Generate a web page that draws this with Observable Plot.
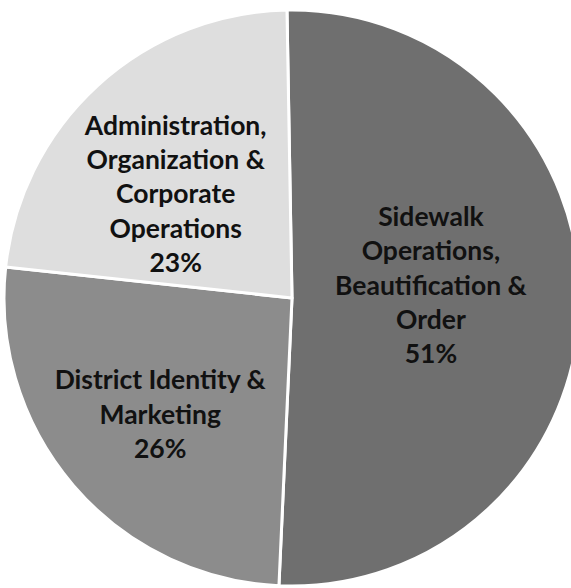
<!DOCTYPE html>
<html>
<head>
<meta charset="utf-8">
<script src="https://cdn.jsdelivr.net/npm/d3@7"></script>
<script src="https://cdn.jsdelivr.net/npm/@observablehq/plot@0.6"></script>
<style>
  html, body { margin: 0; padding: 0; background: #fff; }
  #chart { width: 571px; height: 588px; overflow: hidden; }
</style>
</head>
<body>
<div id="chart"></div>
<script>
// Data
const categories = [
  "Sidewalk\nOperations,\nBeautification &\nOrder",
  "District Identity &\nMarketing",
  "Administration,\nOrganization &\nCorporate\nOperations"
];
const shares = [51, 26, 23];
const fills = ["#6f6f6f", "#8c8c8c", "#dedede"];

const W = 571, H = 588;
const CX = 292, CY = 298, R = 288;
const data = categories.map((c, i) => ({label: c, value: shares[i], fill: fills[i]}));

const pie = d3.pie().sort(null).value(d => d.value)
  .startAngle(-Math.PI / 180).endAngle(2 * Math.PI - Math.PI / 180)(data);
// label anchor in unit-circle coordinates
const labelArc = d3.arc().innerRadius(0.3).outerRadius(0.8);
const labels = pie.map((p, i) => {
  const [cx, cy] = labelArc.centroid(p);
  return {i, x: cx, y: -cy, text: `${p.data.label}\n${p.data.value}%`};
});

function pieMark(index, scales) {
  const {x, y} = scales;
  const cx = x(0), cy = y(0);
  const r = Math.abs(x(1) - x(0));
  const arc = d3.arc().innerRadius(0).outerRadius(r);
  const g = d3.create("svg:g").attr("transform", `translate(${cx},${cy})`);
  g.selectAll("path").data(pie).join("path")
    .attr("d", arc)
    .attr("fill", d => d.data.fill)
    .attr("stroke", "#fff")
    .attr("stroke-width", 3)
    .attr("stroke-linejoin", "round");
  return g.node();
}

const textStyle = {
  x: "x", y: "y", text: "text",
  fontSize: 26.5,
  lineHeight: 1.29,
  fontWeight: 700,
  fill: "#111",
  fontFamily: "Lato, 'Open Sans', sans-serif"
};
const nudges = [[-20, -17], [-12, 11], [-10, 11]];

const chart = Plot.plot({
  width: W,
  height: H,
  margin: 0,
  style: {background: "#fff"},
  x: {domain: [-CX / R, (W - CX) / R], range: [0, W], axis: null},
  y: {domain: [(CY - H) / R, CY / R], range: [H, 0], axis: null},
  marks: [
    pieMark,
    ...nudges.map(([dx, dy], i) =>
      Plot.text(labels.filter(d => d.i === i), {...textStyle, dx, dy}))
  ]
});
document.getElementById("chart").append(chart);
</script>
</body>
</html>
